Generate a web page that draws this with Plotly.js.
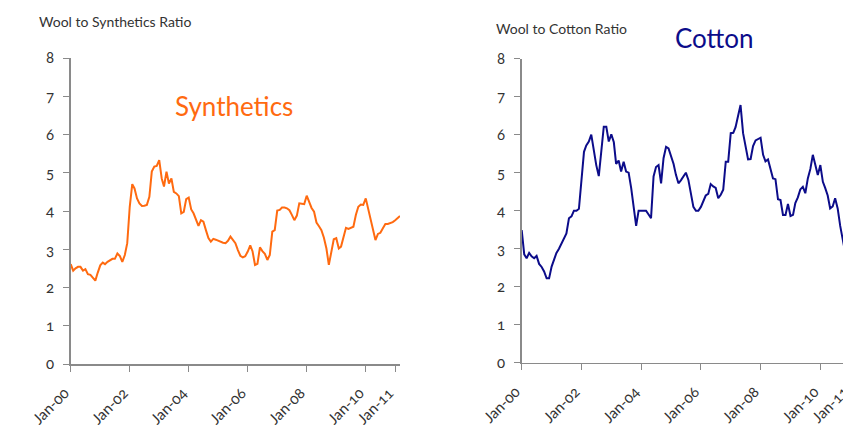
<!DOCTYPE html>
<html>
<head>
<meta charset="utf-8">
<script src="https://cdn.plot.ly/plotly-3.0.1.min.js"></script>
<style>
html,body{margin:0;padding:0;overflow:hidden;background:#fff;}
#chart{width:870px;height:426px;}
#chart text{font-feature-settings:"onum" 1; font-variant-numeric: oldstyle-nums;}
</style>
</head>
<body>
<div id="chart"></div>
<script>
// Monthly ratios starting Jan-2000
const synthStart = "2000-01";
const synthetics = [
 2.61,2.44,2.50,2.54,2.54,2.44,2.48,2.35,2.33,2.25,2.18,2.39,
 2.58,2.65,2.61,2.67,2.72,2.75,2.75,2.89,2.82,2.67,2.85,3.16,
 4.11,4.70,4.59,4.33,4.20,4.13,4.14,4.16,4.37,5.03,5.16,5.18,
 5.33,4.85,4.64,5.03,4.72,4.85,4.50,4.46,4.39,3.94,3.98,4.31,
 4.35,4.04,3.94,3.75,3.61,3.76,3.72,3.50,3.29,3.20,3.27,3.25,
 3.22,3.20,3.17,3.16,3.22,3.33,3.25,3.16,2.98,2.83,2.79,2.82,
 2.94,3.10,2.95,2.59,2.62,3.05,2.95,2.88,2.72,2.85,3.46,3.50,
 4.01,4.03,4.09,4.09,4.07,4.02,3.90,3.76,3.88,4.20,4.19,4.18,
 4.40,4.22,4.08,3.98,3.70,3.60,3.50,3.30,3.02,2.59,2.98,3.26,
 3.29,3.02,3.07,3.30,3.56,3.53,3.55,3.59,3.90,4.11,4.17,4.16,
 4.33,4.05,3.80,3.55,3.24,3.40,3.43,3.55,3.66,3.66,3.68,3.71,
 3.76,3.82,3.87
];
const cottonStart = "2000-01";
const cotton = [
 3.49,2.85,2.75,2.89,2.80,2.75,2.81,2.60,2.52,2.40,2.22,2.22,
 2.53,2.72,2.89,3.00,3.12,3.25,3.40,3.80,3.85,4.00,4.00,4.05,
 4.90,5.55,5.72,5.82,6.00,5.55,5.20,4.91,5.55,6.21,6.21,5.82,
 6.01,5.80,5.23,5.32,5.03,5.29,5.03,5.00,4.60,4.10,3.60,4.00,
 4.00,4.00,4.00,3.90,3.80,4.90,5.15,5.20,4.72,5.38,5.68,5.64,
 5.45,5.23,4.95,4.72,4.80,4.90,5.00,4.81,4.40,4.10,4.00,4.00,
 4.10,4.25,4.40,4.44,4.70,4.64,4.60,4.33,4.42,4.55,5.29,5.29,
 6.04,6.05,6.20,6.50,6.78,6.04,5.70,5.35,5.36,5.70,5.85,5.88,
 5.92,5.47,5.30,5.35,5.10,4.85,4.83,4.30,4.28,3.89,3.89,4.18,
 3.86,3.89,4.20,4.35,4.56,4.63,4.46,4.85,5.10,5.47,5.20,4.94,
 5.20,4.76,4.60,4.40,4.06,4.11,4.33,4.06,3.60,3.20,2.90
];
const tickDates = ["2000-01-01","2002-01-01","2004-01-01","2006-01-01","2008-01-01","2010-01-01","2011-01-01"];
const tickLabels = ["Jan-00","Jan-02","Jan-04","Jan-06","Jan-08","Jan-10","Jan-11"];
const yTicks = [0,1,2,3,4,5,6,7,8];

function months(start, n){
  const [y0,m0] = start.split("-").map(Number);
  const out = [];
  for(let i=0;i<n;i++){
    const t = (m0-1)+i;
    const y = y0+Math.floor(t/12), m = (t%12)+1;
    out.push(y+"-"+String(m).padStart(2,"0")+"-01");
  }
  return out;
}

const W = 870, H = 426;
const FONT = "Lato, 'Open Sans', sans-serif";
const axisColor = "#8a8a8a";

const traces = [
  {x: months(synthStart, synthetics.length), y: synthetics, type: "scatter", mode: "lines",
   line: {color: "#ff6a10", width: 2}, xaxis: "x", yaxis: "y", hoverinfo: "skip"},
  {x: months(cottonStart, cotton.length), y: cotton, type: "scatter", mode: "lines",
   line: {color: "#0c0c8a", width: 2}, xaxis: "x2", yaxis: "y2", hoverinfo: "skip"}
];

function xax(d0, d1, anchor){
  return {domain: [d0/W, d1/W], anchor: anchor, type: "date",
    range: ["2000-01-01", "2011-03-01"],
    tickmode: "array", tickvals: tickDates, ticktext: tickLabels, tickangle: -45,
    showline: true, linecolor: axisColor, linewidth: 1.5, ticks: "outside", ticklen: 6,
    tickcolor: axisColor, tickfont: {family: FONT, size: 15, color: "#333"},
    ticklabelshift: -6, ticklabelstandoff: 7,
    showgrid: false, zeroline: false, fixedrange: true};
}
function yax(top, bottom, anchor){
  return {domain: [(H-bottom)/H, (H-top)/H], anchor: anchor, range: [0, 8],
    tickmode: "array", tickvals: yTicks, ticktext: yTicks.map(String),
    showline: true, linecolor: axisColor, linewidth: 1.5, ticks: "outside", ticklen: 6,
    tickcolor: axisColor, tickfont: {family: FONT, size: 15, color: "#333"},
    ticklabelstandoff: 6,
    showgrid: false, zeroline: false, fixedrange: true};
}

const layout = {
  width: W, height: H, margin: {l: 0, r: 0, t: 0, b: 0},
  paper_bgcolor: "#fff", plot_bgcolor: "#fff", showlegend: false,
  font: {family: FONT},
  xaxis: xax(70.7, 400, "y"),
  yaxis: yax(58, 364, "x"),
  xaxis2: xax(521.7, 855, "y2"),
  yaxis2: yax(58.7, 362.7, "x2"),
  annotations: [
    {text: "Wool to Synthetics Ratio", xref: "paper", yref: "paper", x: 37/W, y: (H-22)/H,
     xanchor: "left", yanchor: "middle", showarrow: false, font: {family: FONT, size: 14, color: "#333"}},
    {text: "Wool to Cotton Ratio", xref: "paper", yref: "paper", x: 494/W, y: (H-29)/H,
     xanchor: "left", yanchor: "middle", showarrow: false, font: {family: FONT, size: 14, color: "#333"}},
    {text: "Synthetics", xref: "paper", yref: "paper", x: 234/W, y: (H-106)/H,
     xanchor: "center", yanchor: "middle", showarrow: false, font: {family: FONT, size: 26, color: "#ff6a10"}},
    {text: "Cotton", xref: "paper", yref: "paper", x: 714/W, y: (H-38)/H,
     xanchor: "center", yanchor: "middle", showarrow: false, font: {family: FONT, size: 26, color: "#0c0c8a"}}
  ]
};

Plotly.newPlot("chart", traces, layout, {displayModeBar: false, staticPlot: true});
</script>
</body>
</html>
